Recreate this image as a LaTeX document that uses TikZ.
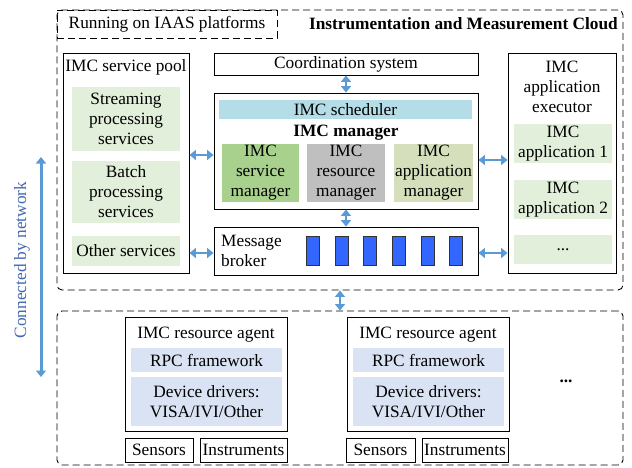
\documentclass[tikz,border=0pt]{standalone}
\usepackage{fontspec}
\setmainfont{Liberation Serif}
\usetikzlibrary{arrows.meta}

\definecolor{poolgreen}{HTML}{E2EFDA}
\definecolor{smgreen}{HTML}{A9D18E}
\definecolor{rmgrey}{HTML}{BFBFBF}
\definecolor{amolive}{HTML}{D6DFBC}
\definecolor{schedblue}{HTML}{B4DDE7}
\definecolor{rpcblue}{HTML}{DAE3F3}
\definecolor{arrowblue}{HTML}{5B9BD5}
\definecolor{netblue}{HTML}{4468B4}
\definecolor{queueblue}{HTML}{3366FF}

\begin{document}
\begin{tikzpicture}[x=1pt, y=-1pt,
	every node/.style={font=\fontsize{17.3}{20}\selectfont, inner sep=0pt, align=center},
	box/.style={draw=black, line width=0.9pt, rectangle},
	dashbox/.style={draw=black, line width=0.9pt, dash pattern=on 7pt off 4pt, rounded corners=5pt},
	fillbox/.style={rectangle, fill=#1},
	queue/.style={draw=black!80, line width=0.7pt, fill=queueblue, minimum width=13, minimum height=29},
	biarrow/.style={{Triangle[length=6.5pt,width=10pt]}-{Triangle[length=6.5pt,width=10pt]}, line width=2.8pt, arrowblue}]
	\useasboundingbox (0,0) rectangle (632,467);

	% cloud part
	\node[dashbox, minimum width=566, minimum height=280] (cloud) at (340,150) {};
	\node[dashbox, rounded corners=0pt, minimum width=220, minimum height=28] (iaas) at (167,24) {Running on IAAS platforms};
	\node[anchor=east, font=\fontsize{17.3}{20}\selectfont\bfseries] (cloudtitle) at (618,24) {Instrumentation and Measurement Cloud};

	% service pool
	\node[box, minimum width=126, minimum height=220] (pool) at (126,163) {};
	\node (pooltitle) at (126,67) {IMC service pool};
	\node[fillbox=poolgreen, minimum width=108, minimum height=64] (stream) at (126,119) {Streaming\\processing\\services};
	\node[fillbox=poolgreen, minimum width=108, minimum height=62] (batch) at (126,192) {Batch\\processing\\services};
	\node[fillbox=poolgreen, minimum width=108, minimum height=30] (other) at (126,251) {Other services};

	% coordination and manager
	\node[box, minimum width=264, minimum height=22] (coord) at (346,64) {Coordination system};
	\node[box, minimum width=264, minimum height=116] (mgr) at (346,151) {};
	\node[fillbox=schedblue, minimum width=253, minimum height=19] (sched) at (345.5,109.5) {IMC scheduler};
	\node[font=\fontsize{17.3}{20}\selectfont\bfseries] (mgrtitle) at (346,133) {IMC manager};
	\node[fillbox=smgreen, minimum width=77, minimum height=58] (smgr) at (260.5,173) {IMC\\service\\manager};
	\node[fillbox=rmgrey, minimum width=78, minimum height=58] (rmgr) at (346,173) {IMC\\resource\\manager};
	\node[fillbox=amolive, minimum width=79, minimum height=58] (amgr) at (433.5,173) {IMC\\application\\manager};

	% message broker
	\node[box, minimum width=264, minimum height=48] (broker) at (346,251) {};
	\node[anchor=west, align=left] (brokertitle) at (221,251) {Message\\broker};
	\foreach \i in {0,...,5}
		\node[queue] (q\i) at (313+28.6*\i,250.5) {};

	% application executor
	\node[box, minimum width=108, minimum height=220] (exec) at (562,163) {};
	\node (exectitle) at (562,87) {IMC\\application\\executor};
	\node[fillbox=poolgreen, minimum width=98, minimum height=39] (app1) at (563,143.5) {IMC\\application 1};
	\node[fillbox=poolgreen, minimum width=98, minimum height=39] (app2) at (563,199.5) {IMC\\application 2};
	\node[fillbox=poolgreen, minimum width=98, minimum height=29] (appmore) at (563,249.5) {...};

	% field part
	\node[dashbox, minimum width=566, minimum height=154] (field) at (340,388) {};
	\foreach \dx/\n in {0/a, 222/b} {
		\node[box, minimum width=162, minimum height=114] (agent\n) at (206+\dx,374) {};
		\node (agenttitle\n) at (206+\dx,335) {IMC resource agent};
		\node[fillbox=rpcblue, minimum width=151, minimum height=24] (rpc\n) at (206.5+\dx,360) {RPC framework};
		\node[fillbox=rpcblue, minimum width=151, minimum height=49] (drv\n) at (206.5+\dx,401.5) {Device drivers:\\VISA/IVI/Other};
	}
	\node[box, minimum width=68, minimum height=24] (sensa) at (159,450) {Sensors};
	\node[box, minimum width=87, minimum height=24] (insta) at (243.5,450) {Instruments};
	\node[box, minimum width=69, minimum height=24] (sensb) at (380.5,450) {Sensors};
	\node[box, minimum width=86, minimum height=24] (instb) at (465,450) {Instruments};
	\node[font=\fontsize{17.3}{20}\selectfont\bfseries] (moreagents) at (566,381) {...};

	% network
	\node[rotate=90, text=netblue] (net) at (22,260) {Connected by network};
	\coordinate (nettop) at (41,157);
	\coordinate (netbot) at (41,377);
	\draw[biarrow, line width=3pt] (nettop) -- (netbot);

	% connectors
	\draw[biarrow] (coord.south) -- (mgr.north);
	\draw[biarrow] (mgr.south) -- (broker.north);
	\draw[biarrow] ([yshift=-4pt]mgr.west) -- ([yshift=-4pt]mgr.west -| pool.east);
	\draw[biarrow] ([yshift=-9pt]mgr.east) -- ([yshift=-9pt]mgr.east -| exec.west);
	\draw[biarrow] ([yshift=-2pt]broker.west) -- ([yshift=-2pt]broker.west -| pool.east);
	\draw[biarrow] ([yshift=-2pt]broker.east) -- ([yshift=-2pt]broker.east -| exec.west);
	\draw[biarrow] (cloud.south) -- (field.north);
\end{tikzpicture}
\end{document}
